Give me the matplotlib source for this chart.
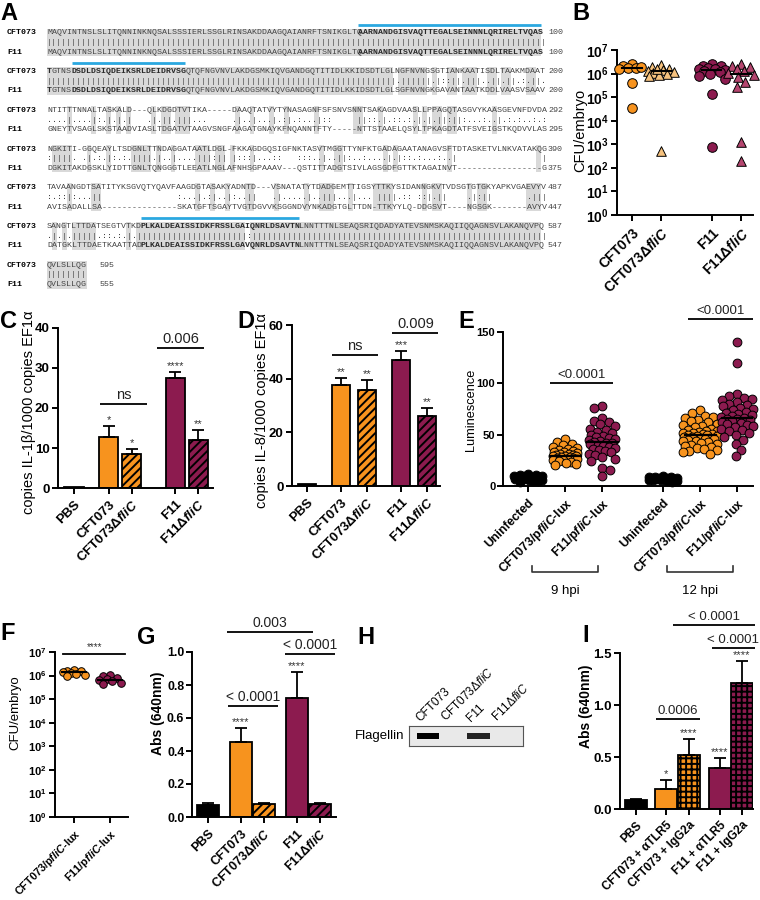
import numpy as np
import matplotlib
matplotlib.use('Agg')
import matplotlib.pyplot as plt
from matplotlib.patches import Rectangle
from matplotlib.transforms import blended_transform_factory, offset_copy
from matplotlib.ticker import NullLocator

plt.rcParams['font.family'] = ['Liberation Sans', 'DejaVu Sans']
plt.rcParams['mathtext.fontset'] = 'custom'
plt.rcParams['mathtext.rm'] = 'Liberation Sans'
plt.rcParams['mathtext.it'] = 'Liberation Sans:italic'
plt.rcParams['mathtext.bf'] = 'Liberation Sans:bold'
if 'mathtext.bfit' in plt.rcParams:
    plt.rcParams['mathtext.bfit'] = 'Liberation Sans:italic:bold'
plt.rcParams['hatch.linewidth'] = 1.4

# ------------------------------------------------------------------ data
seq_cft073 = [
    "MAQVINTNSLSLITQNNINKNQSALSSSIERLSSGLRINSAKDDAAGQAIANRFTSNIKGLTQAARNANDGISVAQTTEGALSEINNNLQRIRELTVQAS",
    "TGTNSDSDLDSIQDEIKSRLDEIDRVSGQTQFNGVNVLAKDGSMKIQVGANDGQTITIDLKKIDSDTLGLNGFNVNGSGTIANKAATISDLTAAKMDAAT",
    "NTITTTNNALTASKALD---QLKDGDTVTIKA-----DAAQTATVYTYNASAGNFSFSNVSNNTSAKAGDVAASLLPPAGQTASGVYKAASGEVNFDVDA",
    "NGKITI-GGQEAYLTSDGNLTTNDAGGATAATLDGL-FKKAGDGQSIGFNKTASVTMGGTTYNFKTGADAGAATANAGVSFTDTASKETVLNKVATAKQG",
    "TAVAANGDTSATITYKSGVQTYQAVFAAGDGTASAKYADNTD---VSNATATYTDADGEMTTIGSYTTKYSIDANNGKVTVDSGTGTGKYAPKVGAEVYV",
    "SANGTLTTDATSEGTVTKDPLKALDEAISSIDKFRSSLGAIQNRLDSAVTNLNNTTTNLSEAQSRIQDADYATEVSNMSKAQIIQQAGNSVLAKANQVPQ",
    "QVLSLLQG",
]
seq_f11 = [
    "MAQVINTNSLSLITQNNINKNQSALSSSIERLSSGLRINSAKDDAAGQAIANRFTSNIKGLTQAARNANDGISVAQTTEGALSEINNNLQRIRELTVQAS",
    "TGTNSDSDLDSIQDEIKSRLDEIDRVSGQTQFNGVNVLAKDGSMKIQVGANDGQTITIDLKKIDSDTLGLSGFNVNGKGAVANTAATKDDLVAASVSAAV",
    "GNEYTVSAGLSKSTAADVIASLTDGATVTAAGVSNGFAAGATGNAYKFNQANNTFTY-----NTTSTAAELQSYLTPKAGDTATFSVEIGSTKQDVVLAS",
    "DGKITAKDGSKLYIDTTGNLTQNGGGTLEEATLNGLAFNHSGPAAAV---QSTITTADGTSIVLAGSGDFGTTKTAGAINVT-----------------G",
    "AVISADALLSA---------------SKATGFTSGAYTVGTDGVVKSGGNDVYNKADGTGLTTDN-TTKYYLQ-DDGSVT----NGSGK-------AVYV",
    "DATGKLTTDAETKAATTADPLKALDEAISSIDKFRSSLGAVQNRLDSAVTNLNNTTTNLSEAQSRIQDADYATEVSNMSKAQIIQQAGNSVLAKANQVPQ",
    "QVLSLLQG",
]
end_cft073 = [100, 200, 292, 390, 487, 587, 595]
end_f11 = [100, 200, 295, 375, 447, 547, 555]
bold_cols = [[(63, 100)], [(0, 1), (5, 28)], [], [], [], [(19, 51)], []]
blue_cols = [[(63, 100)], [(5, 28)], [], [], [], [(19, 51)], []]

b_cft073 = [2.5e6, 2.1e6, 1.8e6, 1.7e6, 1.5e6, 1.9e6, 4.0e5, 3.6e4]
b_cft073_d = [2.3e6, 1.9e6, 1.6e6, 1.4e6, 1.3e6, 1.2e6, 1.1e6, 1.0e6, 9.0e5, 8.0e5, 1.5e6, 5.0e2]
b_f11 = [2.6e6, 2.2e6, 2.0e6, 1.8e6, 1.6e6, 1.5e6, 1.4e6, 1.3e6, 1.2e6, 1.0e6, 8.0e5, 6.0e5, 1.4e5, 7.5e2]
b_f11_d = [2.6e6, 2.2e6, 1.9e6, 1.6e6, 1.3e6, 1.1e6, 9.0e5, 7.0e5, 4.2e5, 2.8e5, 1.3e3, 2.0e2]

bar_labels = ['PBS', 'CFT073', 'CFT073ΔfliC', 'F11', 'F11ΔfliC']
c_mean = [0.3, 12.8, 8.5, 27.6, 12.1]
c_err = [0.0, 2.8, 1.2, 1.3, 2.4]
c_stars = ['', '*', '*', '****', '**']
d_mean = [0.8, 37.6, 35.6, 47.0, 26.0]
d_err = [0.0, 2.8, 3.9, 3.2, 2.9]
d_stars = ['', '**', '**', '***', '**']

e_labels = ['Uninfected', 'CFT073/pfliC-lux', 'F11/pfliC-lux',
            'Uninfected', 'CFT073/pfliC-lux', 'F11/pfliC-lux']
e_un9 = [12, 11, 11, 10, 10, 10, 9, 9, 9, 8, 8, 8, 7, 7, 6, 6, 5, 5, 4]
e_cft9 = [46, 43, 41, 40, 38, 37, 36, 35, 34, 33, 33, 32, 31, 31, 30, 30, 29, 29, 29, 28,
          28, 27, 27, 26, 26, 25, 25, 24, 23, 22, 21, 20]
e_f119 = [78, 76, 66, 63, 62, 60, 58, 56, 55, 53, 52, 50, 49, 48, 47, 46, 45, 44, 43, 42,
          42, 41, 40, 39, 38, 37, 36, 35, 34, 33, 31, 30, 28, 26, 24, 18, 16, 10]
e_un12 = [10, 9, 9, 9, 8, 8, 8, 8, 7, 7, 7, 7, 6, 6, 6, 5, 5, 4]
e_cft12 = [74, 71, 68, 67, 66, 64, 63, 62, 60, 59, 58, 57, 56, 55, 54, 54, 53, 52, 52, 51,
           51, 50, 50, 49, 49, 48, 48, 47, 47, 46, 46, 45, 44, 44, 43, 42, 41, 40, 39, 38,
           37, 36, 35, 34, 33, 31]
e_f1112 = [140, 120, 90, 88, 86, 85, 84, 82, 80, 79, 78, 76, 75, 74, 72, 71, 70, 69, 68, 67,
           66, 65, 65, 64, 63, 62, 61, 60, 59, 58, 57, 56, 55, 54, 52, 50, 48, 45, 41, 35, 29]

f_labels = ['CFT073/pfliC-lux', 'F11/pfliC-lux']
f_cft073 = [1.8e6, 1.6e6, 1.5e6, 1.4e6, 1.3e6, 1.2e6, 1.1e6, 1.0e6]
f_f11 = [1.1e6, 9.5e5, 8.0e5, 7.0e5, 6.5e5, 6.0e5, 5.0e5, 4.3e5]

g_mean = [0.072, 0.452, 0.078, 0.722, 0.080]
g_err = [0.010, 0.085, 0.006, 0.155, 0.006]
g_stars = ['', '****', '', '****', '']

h_lanes = ['CFT073', 'CFT073ΔfliC', 'F11', 'F11ΔfliC']
h_flagellin = [1.0, 0.0, 0.85, 0.0]

i_labels = ['PBS', 'CFT073 + αTLR5', 'CFT073 + IgG2a', 'F11 + αTLR5', 'F11 + IgG2a']
i_mean = [0.09, 0.19, 0.52, 0.39, 1.21]
i_err = [0.003, 0.09, 0.15, 0.10, 0.21]
i_stars = ['', '*', '****', '****', '****']

# ------------------------------------------------------------------ setup
W, H = 760, 900
fig = plt.figure(figsize=(W / 100, H / 100), dpi=100)
ov = fig.add_axes([0, 0, 1, 1])
ov.set_xlim(0, W)
ov.set_ylim(H, 0)
ov.axis('off')

ORANGE = '#F7931E'
MAROON = '#8C1B4F'
LIGHT_OR = '#F6C27E'
PINK = '#B5466F'


def pax(x0, y0, x1, y1):
    return fig.add_axes([x0 / W, 1 - y1 / H, (x1 - x0) / W, (y1 - y0) / H])


def style(ax):
    for s in ['top', 'right']:
        ax.spines[s].set_visible(False)
    for s in ['left', 'bottom']:
        ax.spines[s].set_linewidth(1.4)
    ax.tick_params(width=1.4, length=4)
    ax.tick_params(axis='y', pad=2)


def fmt_label(s, bold=True):
    if 'fliC' in s:
        a, b = s.split('fliC', 1)
        m = r'$\mathbfit{fliC}$' if bold else r'$\mathit{fliC}$'
        return a + m + b
    return s


def letter(x, y, t):
    ov.text(x, y, t, fontsize=17, fontweight='bold', ha='left', va='center')


def ylab(x, y, t, fs=10, weight='normal'):
    ov.text(x, y, t, rotation=90, ha='center', va='center', fontsize=fs, fontweight=weight)


def bracket(ax, x1, x2, y, t, fs=9.5, pad=2):
    ax.plot([x1, x2], [y, y], color='black', lw=1.3, clip_on=False, solid_capstyle='butt')
    tr = offset_copy(ax.transData, fig=fig, x=0, y=pad, units='dots')
    ax.text((x1 + x2) / 2, y, t, transform=tr, ha='center', va='bottom', fontsize=fs,
            clip_on=False, color='#222222')


def swarm(ax, xc, vals, s, color, wmax, marker='o', lw=0.7):
    """Scatter points around xc; horizontal spread limited to +-wmax pixels."""
    vals = np.asarray(vals, float)
    d = np.sqrt(s) * 100 / 72.0
    pts = ax.transData.transform(np.column_stack([np.full(len(vals), xc), vals]))
    x0 = pts[0, 0]
    ypix = pts[:, 1]
    order = np.argsort(-vals, kind='stable')
    cands = [0.0]
    k = 1.0
    while k <= wmax:
        cands += [k, -k]
        k += 1.0
    placed = []
    xs = np.zeros(len(vals))
    for n, i in enumerate(order):
        y = ypix[i]
        best = None
        bestd, bestdx = -1, 0.0
        cl = cands if n % 2 == 0 else [-c for c in cands]
        for dx in cl:
            md = min([np.hypot(dx - px, y - py) for px, py in placed] + [1e9])
            if md >= 0.9 * d:
                best = dx
                break
            if md > bestd + 1e-9:
                bestd, bestdx = md, dx
        if best is None:
            best = bestdx
        placed.append((best, y))
        xs[i] = x0 + best
    data = ax.transData.inverted().transform(np.column_stack([xs, ypix]))
    ax.scatter(data[:, 0], vals, s=s, c=color, marker=marker, edgecolors='black',
               linewidths=lw, zorder=3, clip_on=False)


def bars(ax, pos, means, errs, colors, hatches, width, stars, sfs=8):
    for x, m, e, c, h, st in zip(pos, means, errs, colors, hatches, stars):
        ax.bar(x, m, width, color=c, edgecolor='black', linewidth=1.3, hatch=h, zorder=2)
        if e > 0:
            ax.errorbar(x, m, yerr=[[0], [e]], fmt='none', ecolor='black', elinewidth=1.3,
                        capsize=4, capthick=1.3, zorder=3)
        if st:
            tr = offset_copy(ax.transData, fig=fig, x=0, y=1, units='dots')
            ax.text(x, m + e, st, transform=tr, ha='center', va='bottom', fontsize=sfs,
                    color='#333333')


# ------------------------------------------------------------------ panel A
CW = 4.94
X0 = 47
ROW0 = 33
BLOCK = 38.7
DY = 19.3
FS = CW / 0.6 * 72 / 100
strong = ['STA', 'NEQK', 'NHQK', 'NDEQ', 'QHRK', 'MILV', 'MILF', 'HY', 'FYW']


def mchar(p, q):
    if p == '-' or q == '-':
        return ' '
    if p == q:
        return '|'
    if any(p in g and q in g for g in strong):
        return ':'
    return '.'


def seq_row(s, y, bolds):
    flags = np.zeros(len(s), bool)
    for a, b in bolds:
        flags[a:b] = True
    j = 0
    while j < len(s):
        k = j
        while k < len(s) and flags[k] == flags[j]:
            k += 1
        ov.text(X0 + j * CW, y, s[j:k], fontfamily='Liberation Mono', fontsize=FS,
                fontweight='bold' if flags[j] else 'normal',
                color='#2a2a2a' if flags[j] else '#444444', ha='left', va='center')
        j = k


for bi, (a, f) in enumerate(zip(seq_cft073, seq_f11)):
    yc = ROW0 + bi * BLOCK
    yf = yc + DY
    m = ''.join(mchar(p, q) for p, q in zip(a, f))
    j = 0
    while j < len(m):
        if m[j] == '|':
            k = j
            while k < len(m) and m[k] == '|':
                k += 1
            ov.add_patch(Rectangle((X0 + j * CW, yc - 4.5), (k - j) * CW, DY + 8.5,
                                   fc='#d9d9d9', ec='none', zorder=0))
            j = k
        else:
            j += 1
    for c0, c1 in blue_cols[bi]:
        ov.plot([X0 + c0 * CW, X0 + c1 * CW], [yc - 8.5] * 2, color='#2BA8E0', lw=2,
                solid_capstyle='butt')
    ov.text(7, yc, 'CFT073', fontfamily='Liberation Mono', fontweight='bold', fontsize=FS,
            ha='left', va='center')
    ov.text(7, yf, 'F11', fontfamily='Liberation Mono', fontweight='bold', fontsize=FS,
            ha='left', va='center')
    seq_row(a, yc, bold_cols[bi])
    seq_row(f, yf, bold_cols[bi])
    ov.text(X0, yc + DY / 2, m, fontfamily='Liberation Mono', fontsize=FS, color='#444444',
            ha='left', va='center')
    nx = 548 if len(a) == 100 else 100
    ov.text(nx, yc, str(end_cft073[bi]), fontfamily='Liberation Mono', fontsize=FS,
            color='#444444', ha='left', va='center')
    ov.text(nx, yf, str(end_f11[bi]), fontfamily='Liberation Mono', fontsize=FS,
            color='#444444', ha='left', va='center')

letter(0, 13, 'A')

# ------------------------------------------------------------------ panel B
axB = pax(617, 50, 753, 215)
style(axB)
axB.set_yscale('log')
axB.set_ylim(1, 1e7)
axB.set_xlim(-0.5, 4.1)
axB.yaxis.set_minor_locator(NullLocator())
axB.set_yticks([10 ** k for k in range(8)], [r'$\mathbf{10^{%d}}$' % k for k in range(8)],
               fontsize=10)
b_pos = [0, 1, 2.7, 3.7]
b_names = ['CFT073', 'CFT073ΔfliC', 'F11', 'F11ΔfliC']
axB.set_xticks(b_pos, [fmt_label(n) for n in b_names], rotation=45, ha='right',
               rotation_mode='anchor', fontweight='bold', fontsize=10)
for x, vals, col, mk in zip(b_pos, [b_cft073, b_cft073_d, b_f11, b_f11_d],
                            [ORANGE, LIGHT_OR, MAROON, PINK], ['o', '^', 'o', '^']):
    swarm(axB, x, vals, 48, col, 13, marker=mk)
    med = np.median(vals)
    axB.plot([x - 0.33, x + 0.33], [med, med], color='black', lw=1.5, zorder=4)
ylab(580, 130, 'CFU/embryo', fs=10.5)
letter(572, 13, 'B')

# ------------------------------------------------------------------ panel C
axC = pax(58, 328, 213, 488)
style(axC)
c_pos = [0, 1.5, 2.5, 4.4, 5.4]
axC.set_xlim(-0.7, 6.04)
axC.set_ylim(0, 40)
axC.set_yticks([0, 10, 20, 30, 40], ['0', '10', '20', '30', '40'], fontweight='bold', fontsize=9.5)
bars(axC, c_pos, c_mean, c_err, ['black', ORANGE, ORANGE, MAROON, MAROON],
     ['', '', '////', '', '////'], 0.85, c_stars)
axC.set_xticks(c_pos, [fmt_label(n) for n in bar_labels], rotation=45, ha='right',
               rotation_mode='anchor', fontweight='bold', fontsize=9.5)
bracket(axC, 1.13, 3.17, 21, 'ns', fs=10.5)
bracket(axC, 3.6, 5.65, 35, '0.006', fs=10.5)
ylab(29, 412, 'copies IL-1β/1000 copies EF1α', fs=10.5)
letter(0, 322, 'C')

# ------------------------------------------------------------------ panel D
axD = pax(292, 325, 440, 486)
style(axD)
d_pos = [0, 1.3, 2.3, 3.6, 4.6]
axD.set_xlim(-0.58, 5.1)
axD.set_ylim(0, 60)
axD.set_yticks([0, 20, 40, 60], ['0', '20', '40', '60'], fontweight='bold', fontsize=9.5)
bars(axD, d_pos, d_mean, d_err, ['black', ORANGE, ORANGE, MAROON, MAROON],
     ['', '', '////', '', '////'], 0.72, d_stars)
axD.set_xticks(d_pos, [fmt_label(n) for n in bar_labels], rotation=45, ha='right',
               rotation_mode='anchor', fontweight='bold', fontsize=9.5)
bracket(axD, 0.96, 2.73, 49, 'ns', fs=10.5)
bracket(axD, 3.27, 5.04, 57, '0.009', fs=10.5)
ylab(262, 410, 'copies IL-8/1000 copies EF1α', fs=10.5)
letter(237, 322, 'D')

# ------------------------------------------------------------------ panel E
axE = pax(503, 332, 753, 486)
style(axE)
e_pos = [0, 1, 2, 3.65, 4.65, 5.65]
axE.set_xlim(-0.68, 6.08)
axE.set_ylim(0, 150)
axE.set_yticks([0, 50, 100, 150], ['0', '50', '100', '150'], fontweight='bold', fontsize=8)
axE.tick_params(axis='y', pad=1.5)
axE.set_xticks(e_pos, [fmt_label(n) for n in e_labels], rotation=45, ha='right',
               rotation_mode='anchor', fontweight='bold', fontsize=8.8)
for x, vals, col, wm in zip(e_pos, [e_un9, e_cft9, e_f119, e_un12, e_cft12, e_f1112],
                            ['black', ORANGE, MAROON, 'black', ORANGE, MAROON],
                            [14, 12, 13, 14, 17, 16]):
    swarm(axE, x, vals, 40, col, wm)
    med = np.median(vals)
    axE.plot([x - 0.42, x + 0.42], [med, med], color='black', lw=1.6, zorder=4)
bracket(axE, 0.6, 2.3, 100, '<0.0001', fs=9.5)
bracket(axE, 4.32, 6.08, 163, '<0.0001', fs=9.5)
trE = blended_transform_factory(axE.transData, axE.transAxes)
for xa, xb, t in [(0.1, 1.9, '9 hpi'), (3.75, 5.55, '12 hpi')]:
    axE.plot([xa, xa, xb, xb], [-0.52, -0.558, -0.558, -0.52], transform=trE, color='#333333',
             lw=1.2, clip_on=False)
    axE.text((xa + xb) / 2, -0.68, t, transform=trE, ha='center', va='center', fontsize=9.5)
ylab(471, 410, 'Luminescence', fs=9.2)
letter(458, 322, 'E')

# ------------------------------------------------------------------ panel F
axF = pax(55, 652, 128, 817)
style(axF)
axF.set_yscale('log')
axF.set_ylim(1, 1e7)
axF.set_xlim(-0.53, 1.5)
axF.yaxis.set_minor_locator(NullLocator())
axF.set_yticks([10 ** k for k in range(8)], [r'$\mathbf{10^{%d}}$' % k for k in range(8)],
               fontsize=8)
f_pos = [0, 1]
axF.set_xticks(f_pos, [fmt_label(n) for n in f_labels], rotation=45, ha='right',
               rotation_mode='anchor', fontweight='bold', fontsize=7.8)
for x, vals, col in zip(f_pos, [f_cft073, f_f11], [ORANGE, MAROON]):
    swarm(axF, x, vals, 30, col, 11)
    med = np.median(vals)
    axF.plot([x - 0.33, x + 0.33], [med, med], color='black', lw=1.5, zorder=4)
axF.plot([-0.3, 1.42], [8.5e6, 8.5e6], color='black', lw=1.3, clip_on=False)
axF.text(0.56, 9.5e6, '****', ha='center', va='bottom', fontsize=7, color='#333333')
ylab(15, 713, 'CFU/embryo', fs=9.5)
letter(0, 634, 'F')

# ------------------------------------------------------------------ panel G
axG = pax(192, 652, 336, 817)
style(axG)
g_pos = [0, 1.43, 2.43, 3.87, 4.87]
axG.set_xlim(-0.7, 5.57)
axG.set_ylim(0, 1.0)
axG.set_yticks([0, 0.2, 0.4, 0.6, 0.8, 1.0], ['0.0', '0.2', '0.4', '0.6', '0.8', '1.0'],
               fontweight='bold', fontsize=8.8)
axG.tick_params(axis='y', pad=1.5)
bars(axG, g_pos, g_mean, g_err, ['black', ORANGE, ORANGE, MAROON, MAROON],
     ['', '', '////', '', '////'], 0.95, g_stars)
axG.set_xticks(g_pos, [fmt_label(n) for n in bar_labels], rotation=45, ha='right',
               rotation_mode='anchor', fontweight='bold', fontsize=9)
bracket(axG, 0.87, 3.04, 0.67, '< 0.0001', fs=10)
bracket(axG, 3.35, 5.52, 0.99, '< 0.0001', fs=10)
bracket(axG, 0.83, 4.57, 1.12, '0.003', fs=10)
ylab(158, 713, 'Abs (640nm)', fs=10, weight='bold')
letter(137, 638, 'G')

# ------------------------------------------------------------------ panel H
axH = pax(409, 726, 523, 746)
h_pos = np.arange(len(h_lanes))
axH.set_xlim(-0.75, 3.75)
axH.set_ylim(0, 1)
axH.set_facecolor('#e9e9e9')
for s in axH.spines.values():
    s.set_linewidth(0.8)
    s.set_color('#555555')
axH.set_xticks([])
axH.set_yticks([])
for x, v in zip(h_pos, h_flagellin):
    if v > 0:
        axH.bar(x, 0.28, 0.9, bottom=0.36, color='black', alpha=v, linewidth=0)
trH = blended_transform_factory(axH.transData, axH.transAxes)
for x, n in zip(h_pos, h_lanes):
    axH.text(x - 0.3, 1.2, fmt_label(n, bold=False), transform=trH, rotation=45,
             rotation_mode='anchor', ha='left', va='baseline', fontsize=8.5)
ov.text(404, 736, 'Flagellin', ha='right', va='center', fontsize=9.5)
letter(357, 637, 'H')

# ------------------------------------------------------------------ panel I
axI = pax(620, 653, 753, 809)
style(axI)
i_pos = [0, 1.3, 2.3, 3.65, 4.6]
axI.set_xlim(-0.7, 5.09)
axI.set_ylim(0, 1.5)
axI.set_yticks([0, 0.5, 1.0, 1.5], ['0.0', '0.5', '1.0', '1.5'], fontweight='bold', fontsize=9.5)
bars(axI, i_pos, i_mean, i_err, ['black', ORANGE, ORANGE, MAROON, MAROON],
     ['', '', '+++', '', '+++'], 0.95, i_stars)
axI.set_xticks(i_pos, i_labels, rotation=45, ha='right', rotation_mode='anchor',
               fontweight='bold', fontsize=8.5)
bracket(axI, 0.87, 2.78, 0.87, '0.0006', fs=9.5)
bracket(axI, 3.3, 5.17, 1.55, '< 0.0001', fs=9.5)
bracket(axI, 1.6, 5.17, 1.77, '< 0.0001', fs=9.5)
ylab(586, 706, 'Abs (640nm)', fs=10, weight='bold')
letter(582, 635, 'I')

fig.savefig('out.png', dpi=100)
